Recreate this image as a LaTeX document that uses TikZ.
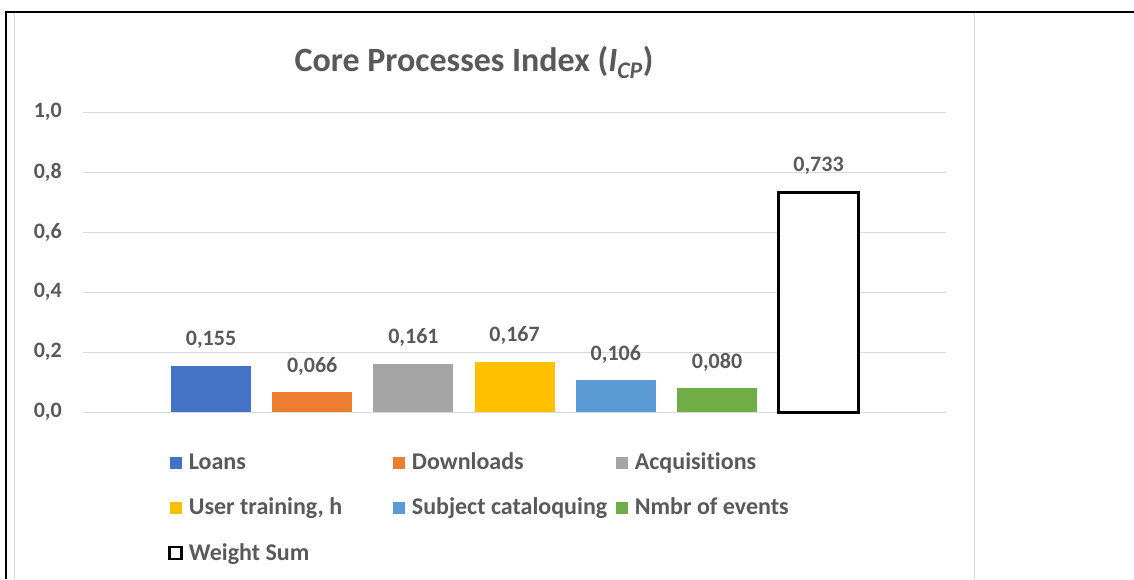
\documentclass[tikz,border=0pt]{standalone}
\usepackage{fontspec}
\setmainfont{Carlito}[Ligatures=NoCommon]
\usepackage{xcolor}
\usetikzlibrary{positioning}

\definecolor{txtgray}{HTML}{595959}
\definecolor{gridgray}{HTML}{D9D9D9}
\definecolor{cLoans}{HTML}{4472C4}
\definecolor{cDown}{HTML}{ED7D31}
\definecolor{cAcq}{HTML}{A5A5A5}
\definecolor{cTrain}{HTML}{FFC000}
\definecolor{cSubj}{HTML}{5B9BD5}
\definecolor{cEvents}{HTML}{70AD47}

\begin{document}
\begin{tikzpicture}[
    x=1pt, y=-1pt,
    lbl/.style={text=txtgray, font=\bfseries\fontsize{22}{26}\selectfont, inner sep=0pt},
    legtext/.style={lbl, font=\bfseries\fontsize{24}{28}\selectfont},
    key/.style={rectangle, minimum size=12pt, inner sep=0pt},
    gridline/.style={draw=gridgray, line width=1pt},
]
    \useasboundingbox (0,0) rectangle (1134,579);
    % frame and chart area
    \draw[gridgray, line width=1pt] (14.5,579) -- (14.5,12) -- (974,12) -- (974,579);
    \draw[black, line width=2pt] (6,579) -- (6,12) -- (1134,12);

    \node[lbl, font=\bfseries\fontsize{34}{40}\selectfont] (title) at (474,62)
        {Core Processes Index ({\itshape I}\textsubscript{\itshape CP})};

    % grid and y labels
    \foreach \k in {0,...,5}
        \draw[gridline] (83,412-60*\k) -- (946,412-60*\k);
    \foreach \k/\t in {0/{0,0}, 1/{0,2}, 2/{0,4}, 3/{0,6}, 4/{0,8}, 5/{1,0}}
        \node[lbl, anchor=east] (y\k) at (62,412-60*\k) {\t};

    % bars
    \foreach \v/\c/\t [count=\i from 0] in {0.155/cLoans/{0,155}, 0.066/cDown/{0,066},
        0.161/cAcq/{0,161}, 0.167/cTrain/{0,167}, 0.106/cSubj/{0,106}, 0.080/cEvents/{0,080}} {
        \fill[\c] (171+101.2*\i,412) rectangle ++(80,-300*\v);
        \node[lbl] (v\i) at (211+101.2*\i,412-300*\v-26) {\t};
    }
    \draw[black, line width=3pt, fill=white] (778.5,412) rectangle (858.5,192);
    \node[lbl] (v6) at (818.5,166) {0,733};

    % legend
    \node[key, fill=cLoans] (kLoans) at (175.5,463) {};
    \node[legtext, right=7pt of kLoans.south east, anchor=base west] (tLoans) {Loans};
    \node[key, fill=cDown] (kDown) at (398.5,463) {};
    \node[legtext, right=7pt of kDown.south east, anchor=base west] (tDown) {Downloads};
    \node[key, fill=cAcq] (kAcq) at (621.5,463) {};
    \node[legtext, right=7pt of kAcq.south east, anchor=base west] (tAcq) {Acquisitions};
    \node[key, fill=cTrain] (kTrain) at (175.5,508) {};
    \node[legtext, right=7pt of kTrain.south east, anchor=base west] (tTrain) {User training, h};
    \node[key, fill=cSubj] (kSubj) at (398.5,508) {};
    \node[legtext, right=7pt of kSubj.south east, anchor=base west] (tSubj) {Subject cataloquing};
    \node[key, fill=cEvents] (kEvents) at (621.5,508) {};
    \node[legtext, right=7pt of kEvents.south east, anchor=base west] (tEvents) {Nmbr of events};
    \node[key, draw=black, line width=2.5pt, fill=white, minimum size=12pt] (kSum) at (175.5,553) {};
    \node[legtext, right=6pt of kSum.south east, anchor=base west] (tSum) {Weight Sum};
\end{tikzpicture}
\end{document}
